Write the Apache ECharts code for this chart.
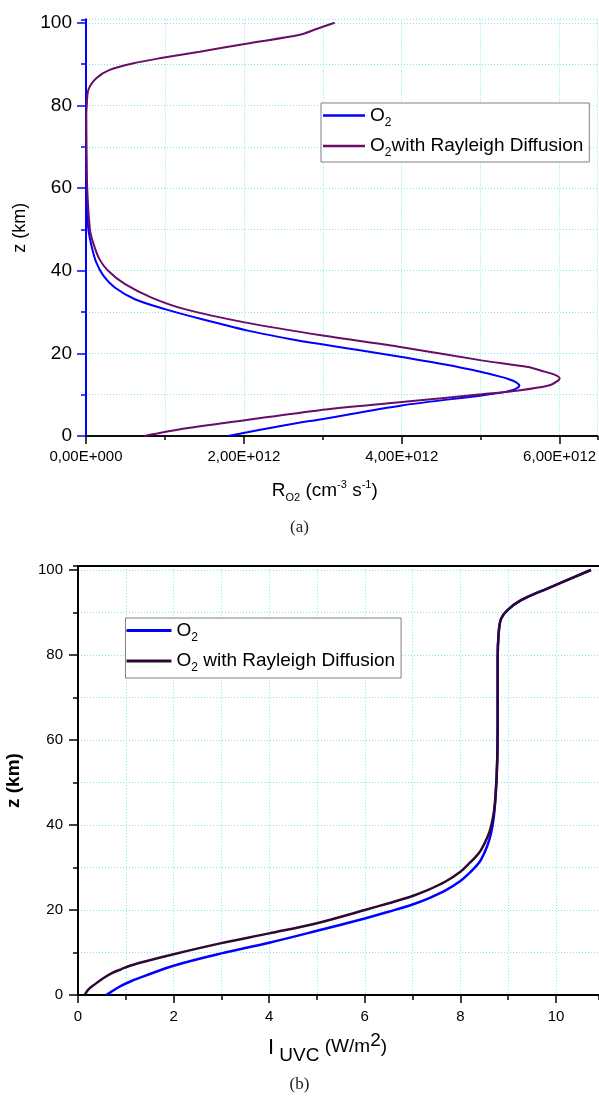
<!DOCTYPE html>
<html><head><meta charset="utf-8">
<script src="https://cdn.jsdelivr.net/npm/echarts@6/dist/echarts.min.js"></script>
<style>html,body{margin:0;padding:0;background:#fff}#c{width:599px;height:1096px}</style>
</head><body><div id="c"></div>
<script>
// ---------- Data: chart (a) ----------
const zA_O2 = [0,2.6,4.2,7.4,9.8,10.5,11.3,12.2,13.0,13.8,14.4,15.5,17.3,19.1,20.7,22.3,23.5,25.5,28.3,30.7,33.1,36.0,38.8,42.0,46.0,50,55,60,70,80,90,100];
const rA_O2 = [1.80e12,2.52e12,3.02e12,4.00e12,5.01e12,5.26e12,5.43e12,5.49e12,5.45e12,5.35e12,5.24e12,5.01e12,4.55e12,4.00e12,3.49e12,2.95e12,2.58e12,2.05e12,1.46e12,1.00e12,0.62e12,0.36e12,0.22e12,0.13e12,0.07e12,0.03e12,0.015e12,0.008e12,0.003e12,0.001e12,0,0];
const zA_Ray = [0,1.8,3.8,6.2,8.2,10.1,11.0,12.2,13.4,14.0,14.8,15.8,16.7,18.3,21.5,24.3,27.5,30.7,33.5,36.8,40.0,42.8,46.8,50,60,70,78,80,83.8,86.6,88.6,90.2,91.4,93.0,95.0,97.1,98.5,100];
const rA_Ray = [0.74e12,1.25e12,2.01e12,2.94e12,4.00e12,5.01e12,5.48e12,5.86e12,5.98e12,6.00e12,5.94e12,5.77e12,5.60e12,5.01e12,4.00e12,3.00e12,2.01e12,1.25e12,0.83e12,0.49e12,0.28e12,0.17e12,0.09e12,0.05e12,0.015e12,0.005e12,0.003e12,0.01e12,0.03e12,0.13e12,0.30e12,0.60e12,0.93e12,1.44e12,2.05e12,2.71e12,2.92e12,3.15e12];
const xTicksA = [0,2e12,4e12,6e12];
const yTicks = [0,20,40,60,80,100];

// ---------- Data: chart (b) ----------
const zB_O2 = [0,0.8,2.2,3.3,4.5,6.9,9.8,12.3,15.1,18.0,19.6,21.3,22.8,24.6,26.8,28.5,30.2,31.8,35,38,42,47.5,55,65,79,85,88.5,90.5,92.9,95.7,100];
const iB_O2 = [0.59,0.70,0.91,1.12,1.40,2.0,3.0,4.0,5.0,6.0,6.5,7.0,7.35,7.69,8.0,8.17,8.32,8.43,8.56,8.64,8.7,8.74,8.77,8.78,8.78,8.8,8.85,8.98,9.27,9.83,10.73];
const zB_Ray = [0,1.2,2.5,3.9,5.1,6.1,7.0,7.9,9.6,12.2,14.5,16.9,20.0,21.6,23.3,24.6,26.7,29.0,30.8,32.5,34.1,37,39.6,43,47.5,55,65,79,85,88.5,90.5,92.9,95.7,100];
const iB_Ray = [0.14,0.21,0.35,0.52,0.70,0.91,1.12,1.40,2.0,3.0,4.0,5.0,6.0,6.5,7.0,7.3,7.69,8.0,8.17,8.32,8.43,8.56,8.64,8.7,8.74,8.77,8.78,8.78,8.8,8.85,8.98,9.27,9.83,10.73];
const xTicksB = [0,2,4,6,8,10];

const seriesNames = ['O2','O2with Rayleigh Diffusion','O2 with Rayleigh Diffusion'];

const FONT = 'Liberation Sans, Arial, sans-serif';
const BLUE = '#0000ff', PURPLE_A = '#690d69', PURPLE_B = '#2e0833';
const GRIDLINE = {show:true, lineStyle:{color:'#7fe8ee', type:[1,2], width:1}};

function pairs(xs, zs){ return xs.map((x,i)=>[x, zs[i]]); }
function fmtE(v){ if (v===0) return '0,00E+000'; return (v/1e12).toFixed(2).replace('.',',')+'E+012'; }
function legendFmt(name){ return '{a|O}{s|2}{a|'+name.slice(2)+'}'; }

const chart = echarts.init(document.getElementById('c'), null, {renderer:'canvas'});
const option = {
  animation:false,
  backgroundColor:'#fff',
  title:[
    {text:'(a)', left:'center', top:514, textStyle:{fontFamily:'Liberation Serif, DejaVu Serif, serif', fontSize:17, fontWeight:'normal', color:'#222'}},
    {text:'(b)', left:'center', top:1071, textStyle:{fontFamily:'Liberation Serif, DejaVu Serif, serif', fontSize:17, fontWeight:'normal', color:'#222'}}
  ],
  grid:[
    {left:86, top:19.5, width:511.5, height:416.5, outerBoundsMode:'none', containLabel:false},
    {left:78, top:566.2, width:521, height:428.8, outerBoundsMode:'none', containLabel:false}
  ],
  legend:[
    {data:[seriesNames[0], seriesNames[1]], left:321, top:103, orient:'vertical', icon:'rect', itemWidth:42, itemHeight:2.5, itemGap:8,
     padding:[3,6,3,2], borderColor:'#808080', borderWidth:1, backgroundColor:'#fff', selectedMode:false,
     formatter:legendFmt,
     textStyle:{color:'#000', rich:{a:{fontSize:19, fontFamily:FONT, color:'#000'}, s:{fontSize:12, fontFamily:FONT, color:'#000', padding:[14,0,0,0]}}}},
    {data:[seriesNames[0], seriesNames[2]], left:125.5, top:618, orient:'vertical', icon:'rect', itemWidth:45, itemHeight:3, itemGap:8,
     padding:[3,6,4,1], borderColor:'#808080', borderWidth:1, backgroundColor:'#fff', selectedMode:false,
     formatter:legendFmt,
     textStyle:{color:'#000', rich:{a:{fontSize:19, fontFamily:FONT, color:'#000'}, s:{fontSize:12, fontFamily:FONT, color:'#000', padding:[14,0,0,0]}}}}
  ],
  xAxis:[
    {gridIndex:0, type:'value', min:0, max:6.48e12, interval:1e12, position:'bottom',
     axisLine:{show:true, lineStyle:{color:'#000', width:1.5}},
     axisTick:{show:true, length:8, customValues:xTicksA, lineStyle:{color:'#000', width:1.5}},
     axisLabel:{show:true, customValues:xTicksA, formatter:fmtE, margin:13, fontSize:15, fontFamily:FONT, color:'#000'},
     splitLine:{show:false},
     name:'{a|R}{s|O2}{a| (cm}{p|-3}{a| s}{p|-1}{a|)}', nameLocation:'middle', nameGap:42,
     nameTextStyle:{padding:[0,34,0,0], rich:{a:{fontSize:19, fontFamily:FONT, color:'#000'}, s:{fontSize:11, fontFamily:FONT, color:'#000', padding:[14,0,0,0]}, p:{fontSize:11, fontFamily:FONT, color:'#000', padding:[0,0,12,0]}}}},
    {gridIndex:0, type:'value', min:0, max:6.48e12, interval:1e12, position:'bottom',
     axisLine:{show:false}, axisTick:{show:true, length:4, lineStyle:{color:'#000', width:1.5}},
     axisLabel:{show:false}, splitLine:GRIDLINE},
    {gridIndex:0, type:'value', min:0, max:6.48e12, position:'top',
     axisLine:{show:true, lineStyle:{color:'#000', width:1.5}}, axisTick:{show:false}, axisLabel:{show:false}, splitLine:{show:false}},
    {gridIndex:1, type:'value', min:0, max:10.9, interval:1, position:'bottom',
     axisLine:{show:true, lineStyle:{color:'#000', width:2}},
     axisTick:{show:true, length:8, customValues:xTicksB, lineStyle:{color:'#000', width:1.5}},
     axisLabel:{show:true, customValues:xTicksB, margin:14, fontSize:15, fontFamily:FONT, color:'#000'},
     splitLine:{show:false},
     name:'{i|I}{u| UVC}{a| (W/m}{p|2}{a|)}', nameLocation:'middle', nameGap:35,
     nameTextStyle:{padding:[0,22,0,0], rich:{i:{fontSize:22, fontFamily:FONT, color:'#000'}, u:{fontSize:19, fontFamily:FONT, color:'#000', padding:[16,0,0,0]}, a:{fontSize:19, fontFamily:FONT, color:'#000', padding:[0,0,2,0]}, p:{fontSize:19, fontFamily:FONT, color:'#000', padding:[0,0,14,0]}}}},
    {gridIndex:1, type:'value', min:0, max:10.9, interval:1, position:'bottom',
     axisLine:{show:false}, axisTick:{show:true, length:5, lineStyle:{color:'#000', width:1.5}},
     axisLabel:{show:false}, splitLine:GRIDLINE},
    {gridIndex:1, type:'value', min:0, max:10.9, position:'top',
     axisLine:{show:true, lineStyle:{color:'#000', width:2}}, axisTick:{show:false}, axisLabel:{show:false}, splitLine:{show:false}}
  ],
  yAxis:[
    {gridIndex:0, type:'value', min:0, max:100.8, interval:10, position:'left',
     axisLine:{show:true, lineStyle:{color:BLUE, width:2}},
     axisTick:{show:true, length:9, customValues:yTicks, lineStyle:{color:BLUE, width:1.5}},
     axisLabel:{show:true, customValues:yTicks, margin:14, fontSize:19, fontFamily:FONT, color:'#000'},
     splitLine:{show:false},
     name:'z (km)', nameLocation:'middle', nameGap:57, nameRotate:90,
     nameTextStyle:{fontSize:18, fontFamily:FONT, color:'#000'}},
    {gridIndex:0, type:'value', min:0, max:100.8, interval:10, position:'left',
     axisLine:{show:false}, axisTick:{show:true, length:5, lineStyle:{color:BLUE, width:1.5}},
     axisLabel:{show:false}, splitLine:GRIDLINE},
    {gridIndex:0, type:'value', min:0, max:100.8, position:'right',
     axisLine:{show:true, lineStyle:{color:BLUE, width:2}}, axisTick:{show:false}, axisLabel:{show:false}, splitLine:{show:false}},
    {gridIndex:1, type:'value', min:0, max:100.9, interval:10, position:'left',
     axisLine:{show:true, lineStyle:{color:'#000', width:2}},
     axisTick:{show:true, length:9, customValues:yTicks, lineStyle:{color:'#000', width:1.5}},
     axisLabel:{show:true, customValues:yTicks, margin:15, fontSize:15, fontFamily:FONT, color:'#000'},
     splitLine:{show:false},
     name:'z (km)', nameLocation:'middle', nameGap:55, nameRotate:90,
     nameTextStyle:{fontSize:19, fontWeight:'bold', fontFamily:FONT, color:'#000'}},
    {gridIndex:1, type:'value', min:0, max:100.9, interval:10, position:'left',
     axisLine:{show:false}, axisTick:{show:true, length:5, lineStyle:{color:'#000', width:1.5}},
     axisLabel:{show:false}, splitLine:GRIDLINE}
  ],
  series:[
    {name:seriesNames[0], type:'line', xAxisIndex:0, yAxisIndex:0, data:pairs(rA_O2, zA_O2), symbol:'none', smooth:0.3,
     lineStyle:{color:BLUE, width:2}, itemStyle:{color:BLUE}, z:3},
    {name:seriesNames[1], type:'line', xAxisIndex:0, yAxisIndex:0, data:pairs(rA_Ray, zA_Ray), symbol:'none', smooth:0.3,
     lineStyle:{color:PURPLE_A, width:2}, itemStyle:{color:PURPLE_A}, z:4},
    {name:seriesNames[0], type:'line', xAxisIndex:3, yAxisIndex:3, data:pairs(iB_O2, zB_O2), symbol:'none', smooth:0.35,
     lineStyle:{color:BLUE, width:2.5}, itemStyle:{color:BLUE}, z:3},
    {name:seriesNames[2], type:'line', xAxisIndex:3, yAxisIndex:3, data:pairs(iB_Ray, zB_Ray), symbol:'none', smooth:0.35,
     lineStyle:{color:PURPLE_B, width:2.5}, itemStyle:{color:PURPLE_B}, z:4}
  ]
};
chart.setOption(option);
</script></body></html>
